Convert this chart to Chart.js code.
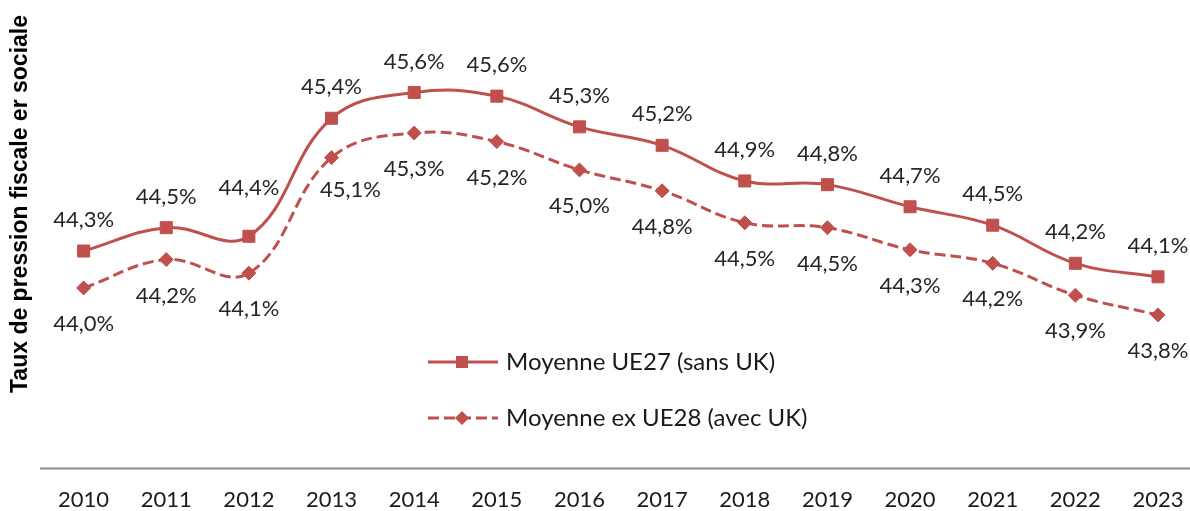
<!DOCTYPE html>
<html lang="fr">
<head>
<meta charset="utf-8">
<title>Taux de pression fiscale et sociale</title>
<script src="https://cdn.jsdelivr.net/npm/chart.js@4"></script>
<style>
  html, body { margin: 0; padding: 0; background: #fff; overflow: hidden; }
  #cadre { width: 1190px; height: 511px; }
  #grafico { display: block; }
</style>
</head>
<body>
<div id="cadre"><canvas id="grafico" width="1190" height="511"></canvas></div>
<script>
const annees = ["2010", "2011", "2012", "2013", "2014", "2015", "2016", "2017", "2018", "2019", "2020", "2021", "2022", "2023"];
const moyenneUE27 = [44.30, 44.49, 44.42, 45.38, 45.59, 45.56, 45.31, 45.16, 44.87, 44.84, 44.66, 44.51, 44.20, 44.09];
const moyenneExUE28 = [44.00, 44.23, 44.12, 45.06, 45.26, 45.19, 44.96, 44.79, 44.53, 44.49, 44.31, 44.20, 43.94, 43.78];
const nomsSeries = ["Moyenne UE27 (sans UK)", "Moyenne ex UE28 (avec UK)"];
const titreAxeY = "Taux de pression fiscale er sociale";

const rouge = "#C0504D";
const policeTexte = "Lato, 'Noto Sans', sans-serif";

// quelques étiquettes déplacées à la main pour ne pas toucher la courbe
const decalagesEtiquettes = { "0-2": [0, -17], "1-3": [19, -4] };

function formatPourcent(v) {
  return v.toFixed(1).replace(".", ",") + "%";
}

// valeurs au-dessus pour UE27, en dessous pour UE28
const etiquettes = {
  id: "etiquettes",
  afterDatasetsDraw(chart) {
    const ctx = chart.ctx;
    ctx.save();
    ctx.font = "22px " + policeTexte;
    ctx.fillStyle = "#262626";
    ctx.textAlign = "center";
    ctx.textBaseline = "middle";
    chart.data.datasets.forEach((ds, i) => {
      const meta = chart.getDatasetMeta(i);
      meta.data.forEach((pt, j) => {
        const dec = decalagesEtiquettes[i + "-" + j] || [0, 0];
        const dy = i === 0 ? -31 : 36;
        ctx.fillText(formatPourcent(ds.data[j]), pt.x + dec[0], pt.y + dy + dec[1]);
      });
    });
    ctx.restore();
  },
};

// ligne de l'axe horizontal, plus longue que la zone du graphique
const ligneAxe = {
  id: "ligneAxe",
  beforeDatasetsDraw(chart) {
    const ctx = chart.ctx;
    const y = chart.chartArea.bottom;
    ctx.save();
    ctx.strokeStyle = "#8c8c8c";
    ctx.lineWidth = 2;
    ctx.beginPath();
    ctx.moveTo(40, y);
    ctx.lineTo(chart.width, y);
    ctx.stroke();
    ctx.restore();
  },
};

const legende = {
  id: "legende",
  afterDraw(chart) {
    const ctx = chart.ctx;
    chart.data.datasets.forEach((ds, i) => {
      const y = 362 + i * 56;
      ctx.save();
      ctx.strokeStyle = ds.borderColor;
      ctx.lineWidth = ds.borderWidth;
      ctx.setLineDash(ds.borderDash || []);
      ctx.beginPath();
      ctx.moveTo(428, y);
      ctx.lineTo(498, y);
      ctx.stroke();
      ctx.setLineDash([]);
      ctx.fillStyle = ds.pointBackgroundColor;
      ctx.beginPath();
      if (ds.pointStyle === "rect") {
        ctx.rect(456, y - 6, 12, 12);
      } else {
        ctx.moveTo(462, y - 7);
        ctx.lineTo(469, y);
        ctx.lineTo(462, y + 7);
        ctx.lineTo(455, y);
        ctx.closePath();
      }
      ctx.fill();
      ctx.font = "24px " + policeTexte;
      ctx.fillStyle = "#1a1a1a";
      ctx.textAlign = "left";
      ctx.textBaseline = "middle";
      ctx.fillText(ds.label, 506, y);
      ctx.restore();
    });
  },
};

const grafico = document.getElementById("grafico").getContext("2d");
const meuGrafico = new Chart(grafico, {
  type: "line",
  data: {
    labels: annees,
    datasets: [
      {
        label: nomsSeries[0],
        data: moyenneUE27,
        borderColor: rouge,
        backgroundColor: rouge,
        borderWidth: 3,
        tension: 0.4,
        pointStyle: "rect",
        pointRadius: 8.5,
        pointBorderWidth: 1,
        pointBackgroundColor: rouge,
        pointBorderColor: rouge,
      },
      {
        label: nomsSeries[1],
        data: moyenneExUE28,
        borderColor: rouge,
        backgroundColor: rouge,
        borderWidth: 3,
        borderDash: [11, 5],
        tension: 0.4,
        pointStyle: "rectRot",
        pointRadius: 7,
        pointBorderWidth: 1,
        pointBackgroundColor: rouge,
        pointBorderColor: rouge,
      },
    ],
  },
  options: {
    responsive: false,
    animation: false,
    layout: {
      padding: { top: 15, right: 32, bottom: -20, left: 0 },
    },
    plugins: {
      legend: { display: false },
      tooltip: { enabled: false },
    },
    scales: {
      x: {
        offset: false,
        afterFit(scale) {
          // la place des étiquettes est déjà prise par les marges
          scale.paddingLeft = 0;
          scale.paddingRight = 0;
        },
        grid: { display: false, drawTicks: false, tickLength: 0 },
        border: { display: false },
        ticks: {
          padding: 18,
          color: "#1a1a1a",
          font: { family: policeTexte, size: 22 },
          maxRotation: 0,
          autoSkip: false,
        },
      },
      y: {
        min: 42.53,
        max: 46.22,
        grid: { display: false, drawTicks: false, tickLength: 0 },
        border: { display: false },
        ticks: { display: false },
        title: {
          display: true,
          text: titreAxeY,
          align: "end",
          color: "#000",
          padding: { top: 7, bottom: 49 },
          font: { family: "'Liberation Sans', Arial, sans-serif", size: 23, weight: "bold" },
        },
      },
    },
  },
  plugins: [ligneAxe, etiquettes, legende],
});
</script>
</body>
</html>
